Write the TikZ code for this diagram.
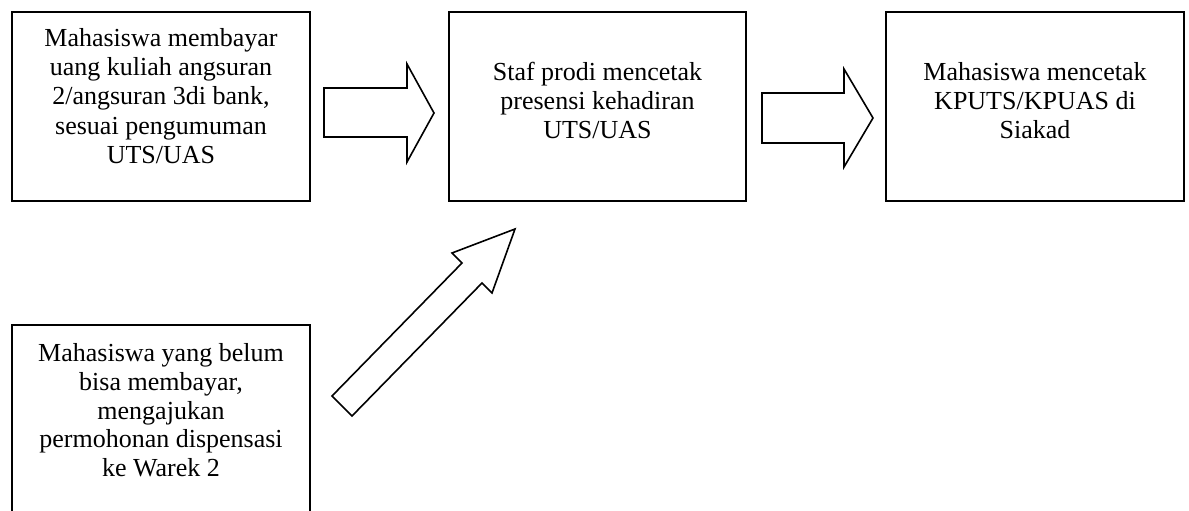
\documentclass[tikz,border=0pt]{standalone}
\usepackage{fontspec}
\setmainfont{Liberation Serif}
\begin{document}
\begin{tikzpicture}[x=1pt,y=-1pt,
  box/.style={draw, line width=1.6pt, fill=white, inner sep=0pt},
  label/.style={anchor=north, inner sep=0pt, align=center,
    font=\fontsize{26}{29.2}\selectfont},
  blockarrow/.style={draw, line width=1.6pt, line join=miter, fill=white}]
\useasboundingbox (0,0) rectangle (1189,511);
\clip (0,0) rectangle (1189,511);

% process boxes
\node[box, minimum width=298pt, minimum height=189pt] (b1) at (161,106.5) {};
\node[box, minimum width=297pt, minimum height=189pt] (b2) at (597.5,106.5) {};
\node[box, minimum width=298pt, minimum height=189pt] (b3) at (1035,106.5) {};
\node[box, minimum width=298pt, minimum height=210pt] (b4) at (161,430) {};

% box texts
\node[label] (t1) at ([yshift=-15pt]b1.north) {\rule{0pt}{20pt}Mahasiswa membayar\\uang kuliah angsuran\\2/angsuran 3di bank,\\sesuai pengumuman\\UTS/UAS};
\node[label] (t2) at ([yshift=-49pt]b2.north) {\rule{0pt}{20pt}Staf prodi mencetak\\presensi kehadiran\\UTS/UAS};
\node[label] (t3) at ([yshift=-49pt]b3.north) {\rule{0pt}{20pt}Mahasiswa mencetak\\KPUTS/KPUAS di\\Siakad};
\node[label, font=\fontsize{26}{28.8}\selectfont] (t4) at ([yshift=-17pt]b4.north) {\rule{0pt}{20pt}Mahasiswa yang belum\\bisa membayar,\\mengajukan\\permohonan dispensasi\\ke Warek 2};

% block arrows between the boxes
\draw[blockarrow] (324,88) -- (407,88) -- (407,64) -- (434,113) -- (407,162) -- (407,137) -- (324,137) -- cycle;
\draw[blockarrow] (762,93) -- (844,93) -- (844,69) -- (873,118) -- (844,167) -- (844,143) -- (762,143) -- cycle;
\draw[blockarrow] (332,396) -- (462,263) -- (452,253) -- (515,229) -- (492,293) -- (482,283) -- (352,416) -- cycle;
\end{tikzpicture}
\end{document}
